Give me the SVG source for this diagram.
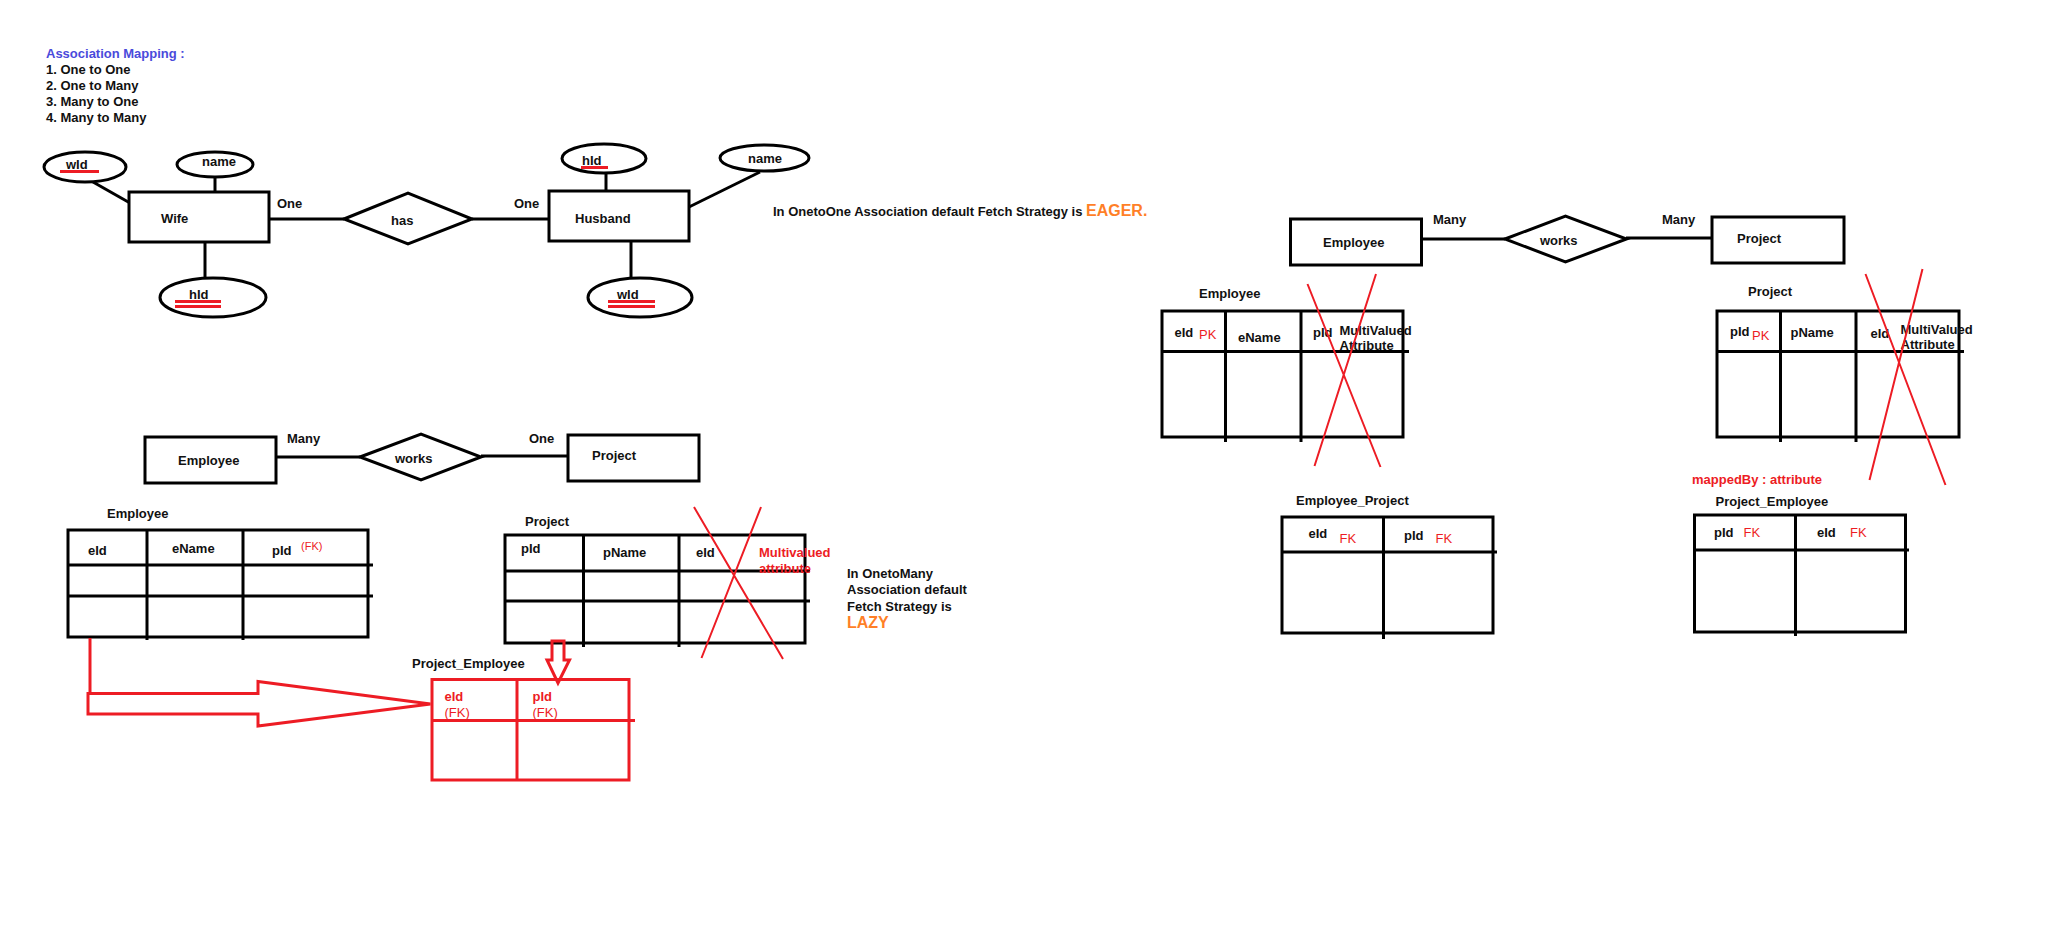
<svg xmlns="http://www.w3.org/2000/svg" width="2048" height="930" viewBox="0 0 2048 930">
<style>
text{font-family:"Liberation Sans",Arial,sans-serif;font-size:13px;font-weight:bold;fill:#111}
.r{fill:#ED1C24}
.rn{fill:#ED1C24;font-weight:normal}
.o{fill:#FF7F27}
.ln{stroke:#000;stroke-width:3;fill:none}
.sh{stroke:#000;stroke-width:3;fill:#fff}
.rl{stroke:#ED1C24;stroke-width:3;fill:none}
.rx{stroke:#ED1C24;stroke-width:2;fill:none}
</style>
<rect width="2048" height="930" fill="#fff"/>

<g id="legend">
<text x="46" y="58" style="fill:#4A4ADB">Association Mapping :</text>
<text x="46" y="74">1. One to One</text>
<text x="46" y="90">2. One to Many</text>
<text x="46" y="106">3. Many to One</text>
<text x="46" y="122">4. Many to Many</text>
</g>

<g id="connectors">
<path class="ln" d="M93,182 L130,203"/>
<path class="ln" d="M215,177 V192"/>
<path class="ln" d="M205,242 V278"/>
<path class="ln" d="M269,219 H344"/>
<path class="ln" d="M472,219 H549"/>
<path class="ln" d="M606,173 V191"/>
<path class="ln" d="M631,241 V278"/>
<path class="ln" d="M689,207 L760,172"/>
<path class="ln" d="M276,457 H360"/>
<path class="ln" d="M481,456 H568"/>
<path class="ln" d="M1421,239 H1505"/>
<path class="ln" d="M1626,238 H1717"/>
</g>

<g id="wId1"><ellipse class="sh" cx="85" cy="167" rx="41" ry="15"/><text x="66" y="169">wId</text><path class="rl" d="M60,171.5 H99"/></g>
<g id="name1"><ellipse class="sh" cx="215" cy="164.5" rx="38" ry="12.5"/><text x="202" y="166">name</text></g>
<g id="wife"><rect class="sh" x="129" y="192" width="140" height="50"/><text x="161" y="223">Wife</text></g>
<g id="hId1"><ellipse class="sh" cx="213" cy="297.5" rx="53" ry="19.5"/><text x="189" y="299">hId</text><path class="rl" d="M175,301.5 H221 M175,306.5 H221"/></g>
<g id="has"><polygon class="sh" points="344,219 408,193 472,219 408,244"/><text x="391" y="225">has</text></g>
<text x="277" y="208">One</text>
<text x="514" y="208">One</text>
<g id="husband"><rect class="sh" x="549" y="191" width="140" height="50"/><text x="575" y="223">Husband</text></g>
<g id="hId2"><ellipse class="sh" cx="604" cy="158.5" rx="42" ry="14.5"/><text x="582" y="165">hId</text><path class="rl" d="M581,167.5 H608"/></g>
<g id="wId2"><ellipse class="sh" cx="640" cy="297.5" rx="52" ry="19.5"/><text x="617" y="299">wId</text><path class="rl" d="M608,301.5 H655 M608,306.5 H655"/></g>
<g id="name2"><ellipse class="sh" cx="764.5" cy="158" rx="44.5" ry="13"/><text x="748" y="163">name</text></g>
<g id="note1"><text x="773" y="216">In OnetoOne Association default Fetch Strategy is <tspan class="o" style="font-size:16px">EAGER.</tspan></text></g>

<!-- One to Many -->
<g id="emp1"><rect class="sh" x="145" y="437" width="131" height="46"/><text x="178" y="465">Employee</text></g>
<text x="287" y="443">Many</text>
<g id="works1"><polygon class="sh" points="360,457 421,434 481,457 421,480"/><text x="395" y="463">works</text></g>
<text x="529" y="443">One</text>
<g id="proj1"><rect class="sh" x="568" y="435" width="131" height="46"/><text x="592" y="460">Project</text></g>

<g id="empTable1">
<text x="107" y="518">Employee</text>
<rect class="ln" x="68" y="530" width="300" height="107"/>
<path class="ln" d="M68,565 H373 M68,596 H373 M147,530 V640 M243,530 V640"/>
<text x="88" y="555">eId</text>
<text x="172" y="553">eName</text>
<text x="272" y="555">pId</text>
<text x="301" y="550" class="rn" style="font-size:11px">(FK)</text>
</g>

<g id="projTable1">
<text x="525" y="526">Project</text>
<rect class="ln" x="505" y="535" width="300" height="108"/>
<path class="ln" d="M505,571 H810 M505,601 H810 M583.5,535 V647 M679,535 V647"/>
<text x="521" y="553">pId</text>
<text x="603" y="557">pName</text>
<text x="696" y="557">eId</text>
<text x="759" y="557" class="r">Multivalued</text>
<text x="759" y="573" class="r">attribute</text>
<path class="rx" d="M694,507 L783,659 M761,507 L701.5,658"/>
</g>

<g id="note2">
<text x="847" y="578">In OnetoMany</text>
<text x="847" y="594">Association default</text>
<text x="847" y="611">Fetch Strategy is</text>
<text x="847" y="628" class="o" style="font-size:16px">LAZY</text>
</g>

<g id="redArrows">
<polygon class="rl" points="552,641 564,641 564,660 569.5,660 558,683 547,660 552,660"/>
<path class="rl" d="M90,638 V693"/>
<polygon class="rl" points="88,693.5 258,693.5 258,681.5 430.5,704 258,726 258,714 88,714"/>
</g>

<g id="projEmpTable1">
<text x="412" y="668">Project_Employee</text>
<rect class="rl" x="432" y="679.5" width="197" height="100.5"/>
<path class="rl" d="M432,720.5 H635 M517,679.5 V780"/>
<text x="444.5" y="701" class="r">eId</text>
<text x="444.5" y="717" class="rn">(FK)</text>
<text x="532.5" y="701" class="r">pId</text>
<text x="532.5" y="717" class="rn">(FK)</text>
</g>

<!-- Many to Many -->
<g id="emp2"><rect class="sh" x="1290.5" y="219" width="131" height="46"/><text x="1323" y="247">Employee</text></g>
<text x="1433" y="224">Many</text>
<g id="works2"><polygon class="sh" points="1505,239 1565.5,216 1626.5,239 1565.5,262"/><text x="1540" y="245">works</text></g>
<text x="1662" y="224">Many</text>
<g id="proj2"><rect class="sh" x="1712" y="217" width="132" height="46"/><text x="1737" y="243">Project</text></g>

<g id="empTable2">
<text x="1199" y="298">Employee</text>
<rect class="ln" x="1162" y="311" width="241" height="126"/>
<path class="ln" d="M1162,351.5 H1409 M1225.5,311 V442 M1301,311 V442"/>
<text x="1174.5" y="337">eId</text>
<text x="1199" y="339" class="rn">PK</text>
<text x="1238" y="342">eName</text>
<text x="1313" y="337">pId</text>
<text x="1339.5" y="335">MultiValued</text>
<text x="1339.5" y="350">Attribute</text>
<path class="rx" d="M1307.5,284 L1380.5,467 M1376,274 L1314.5,466"/>
</g>

<g id="projTable2">
<text x="1748" y="296">Project</text>
<rect class="ln" x="1717" y="311" width="242" height="126"/>
<path class="ln" d="M1717,351.5 H1964 M1780.5,311 V442 M1856,311 V442"/>
<text x="1730" y="336">pId</text>
<text x="1752" y="340" class="rn">PK</text>
<text x="1790.5" y="337">pName</text>
<text x="1870.5" y="338">eId</text>
<text x="1900.5" y="334">MultiValued</text>
<text x="1900.5" y="349">Attribute</text>
<path class="rx" d="M1865.5,274 L1945.5,485 M1922.5,269 L1869.5,480"/>
</g>

<g id="empProjTable">
<text x="1296" y="505">Employee_Project</text>
<rect class="ln" x="1282" y="517" width="211" height="116"/>
<path class="ln" d="M1282,552 H1497 M1383.5,517 V639"/>
<text x="1308.5" y="538">eId</text>
<text x="1339.5" y="543" class="rn">FK</text>
<text x="1404" y="540">pId</text>
<text x="1435.5" y="543" class="rn">FK</text>
</g>

<g id="projEmpTable2">
<text x="1692" y="484" class="r">mappedBy : attribute</text>
<text x="1715.5" y="506">Project_Employee</text>
<rect class="ln" x="1694.5" y="515" width="211" height="117"/>
<path class="ln" d="M1694.5,550 H1909 M1795.5,515 V636"/>
<text x="1714" y="537">pId</text>
<text x="1743.5" y="537" class="rn">FK</text>
<text x="1817" y="537">eId</text>
<text x="1850" y="537" class="rn">FK</text>
</g>
</svg>
